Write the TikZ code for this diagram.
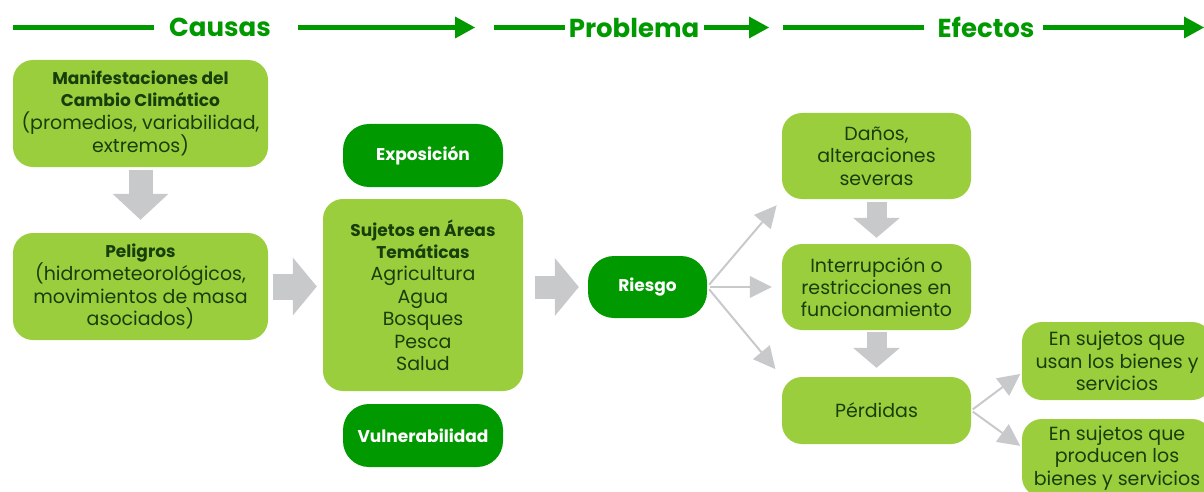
\documentclass[tikz,border=0pt]{standalone}
\usepackage{fontspec}
\setmainfont{Poppins}
\usetikzlibrary{arrows.meta,calc}
\definecolor{verde}{HTML}{009900}
\definecolor{verdeclaro}{HTML}{9BCE3C}
\definecolor{verdeoscuro}{HTML}{173F0B}
\definecolor{gris}{HTML}{C8C9CB}
\newcommand{\negrita}[1]{{\fontsize{17}{22.4}\selectfont\bfseries #1}}
\begin{document}
\begin{tikzpicture}[x=1pt,y=-1pt,
  caja/.style={fill=verdeclaro, rounded corners=20pt, text=verdeoscuro, align=center, inner sep=0pt, font=\fontsize{19}{22.4}\selectfont},
  oscura/.style={fill=verde, rounded corners=26pt, text=white, align=center, inner sep=0pt, font=\fontsize{17}{22.4}\selectfont\bfseries},
  titulo/.style={text=verde, inner sep=0pt, font=\fontsize{26}{30}\selectfont\bfseries},
  linea/.style={draw=verde, line width=5pt},
  flecha/.style={linea, -{Triangle[length=20pt,width=22pt,line width=0pt]}},
  bloque/.style={draw=gris, line width=#1, line cap=butt},
  rama/.style={draw=gris, line width=2pt, -{Triangle[length=22pt,width=22pt,line width=0pt]}}]
\useasboundingbox (0,0) rectangle (1204,492);
\clip (0,0) rectangle (1204,492);
\scriptsize
\begin{scope}
\node[titulo] (causas) at (220,27.5) {Causas};
\node[titulo] (problema) at (634,27.5) {Problema};
\node[titulo] (efectos) at (986,27.5) {Efectos};
\coordinate (h0) at (13,27.5);
\coordinate (h1) at (475,27.5);
\coordinate (h2) at (494,27.5);
\coordinate (h3) at (769,27.5);
\coordinate (h4) at (783,27.5);
\coordinate (h5) at (1204,27.5);
\path[linea,shorten >=15pt] (h0) -- (causas.west);
\path[flecha,shorten <=27pt] (causas.east) -- (h1);
\path[linea,shorten >=4pt] (h2) -- (problema.west);
\path[flecha,shorten <=5pt] (problema.east) -- (h3);
\path[linea,shorten >=13pt] (h4) -- (efectos.west);
\path[flecha,shorten <=8pt] (efectos.east) -- (h5);
\end{scope}
\begin{scope}
\node[caja, minimum width=255pt, minimum height=107pt] (manif) at (140.5,113.5)
  {\negrita{Manifestaciones del}\\\negrita{Cambio Climático}\\(promedios, variabilidad,\\extremos)};
\node[caja, minimum width=255pt, minimum height=107pt] (peligros) at (140.5,286.5)
  {\negrita{Peligros}\\(hidrometeorológicos,\\movimientos de masa\\asociados)};
\node[oscura, minimum width=160pt, minimum height=63pt] (expo) at (423,155.5) {Exposición};
\node[caja, minimum width=200pt, minimum height=192pt] (sujetos) at (423,295)
  {\negrita{Sujetos en Áreas}\\\negrita{Temáticas}\\Agricultura\\Agua\\Bosques\\Pesca\\Salud};
\node[oscura, minimum width=160pt, minimum height=63pt] (vulne) at (423,435.5) {Vulnerabilidad};
\node[oscura, minimum width=119pt, minimum height=62pt] (riesgo) at (647.5,287) {Riesgo};
\node[caja, minimum width=189pt, minimum height=86pt] (danos) at (876.5,156) {Daños,\\alteraciones\\severas};
\node[caja, minimum width=189pt, minimum height=86pt] (interr) at (876.5,287) {Interrupción o\\restricciones en\\funcionamiento};
\node[caja, minimum width=189pt, minimum height=67pt] (perdidas) at (876.5,410.5) {Pérdidas};
\node[caja, minimum width=190pt, minimum height=78pt] (usan) at (1117,361) {En sujetos que\\usan los bienes y\\servicios};
\node[caja, minimum width=190pt, minimum height=78pt] (producen) at (1117,458) {En sujetos que\\producen los\\bienes y servicios};
\path[bloque=24pt,-{Triangle[length=26pt,width=56pt,line width=0pt]},shorten <=3pt,shorten >=13pt] (manif) -- (peligros);
\path[bloque=26pt,-{Triangle[length=24pt,width=58pt,line width=0pt]},shorten <=5pt,shorten >=6pt] (peligros) -- (peligros -| sujetos.west);
\path[bloque=23pt,-{Triangle[length=24pt,width=58pt,line width=0pt]},shorten <=12pt,shorten >=9pt] (sujetos.east |- riesgo) -- (riesgo);
\path[bloque=20pt,-{Triangle[length=20pt,width=47pt,line width=0pt]},shorten <=3pt,shorten >=6pt] (danos) -- (interr);
\path[bloque=20pt,-{Triangle[length=20pt,width=47pt,line width=0pt]},shorten <=2pt,shorten >=9pt] (interr) -- (perdidas);
\path[rama,shorten <=3pt,shorten >=8pt] (riesgo.east) -- (danos.south west);
\path[rama,shorten <=3pt,shorten >=10pt] (riesgo.east) -- (interr.west);
\path[rama,shorten <=3pt,shorten >=10pt] (riesgo.east) -- (perdidas.north west);
\coordinate (u) at ($(usan.west)!0.3!(usan.south west)$);
\coordinate (p) at ($(producen.north west)!0.72!(producen.west)$);
\path[rama,shorten <=2pt,shorten >=2pt] (perdidas.east) -- (u);
\path[rama,shorten <=2pt,shorten >=2pt] (perdidas.east) -- (p);
\end{scope}
\end{tikzpicture}
\end{document}
